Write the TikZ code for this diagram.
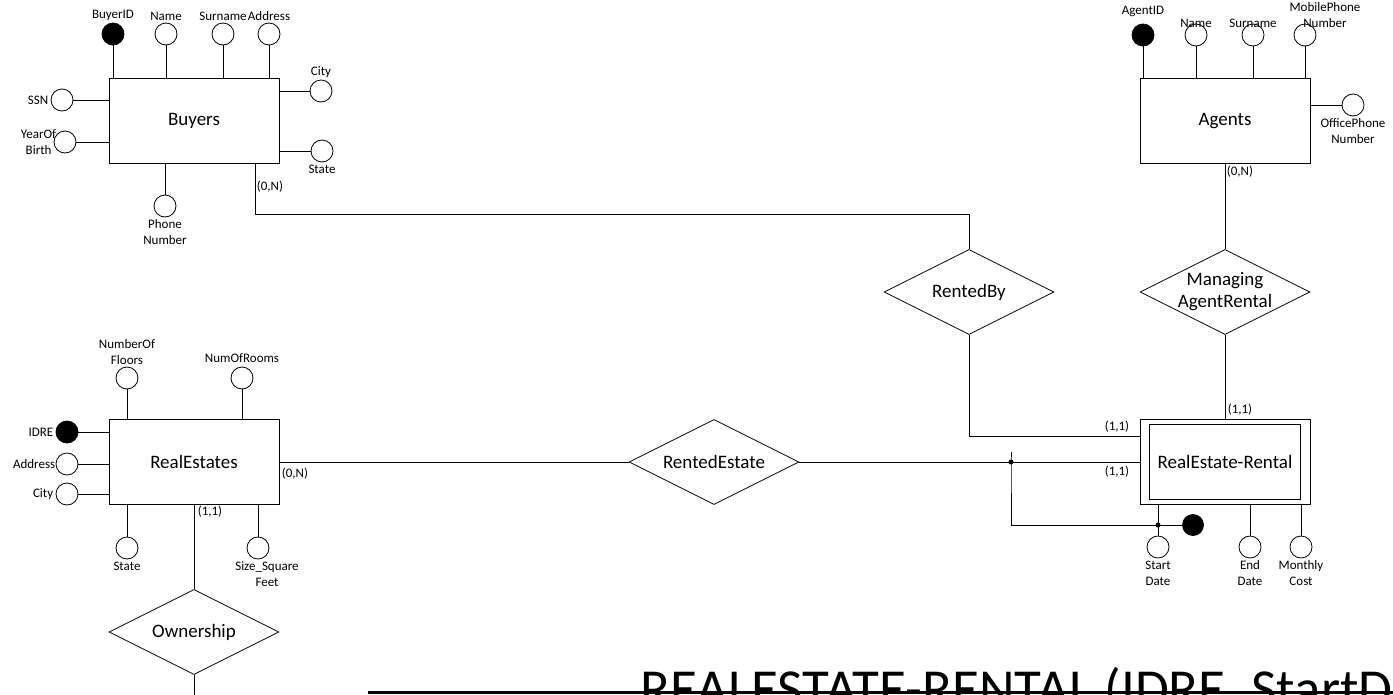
\documentclass[tikz,border=0pt]{standalone}
\usepackage{fontspec}
\setmainfont{Carlito}
\usepackage{tikz}
\usetikzlibrary{shapes.geometric}

\tikzset{
  bigfont/.style={font=\fontsize{19}{22}\selectfont},
  entity/.style={draw, rectangle, minimum width=170pt, minimum height=85pt, bigfont},
  attr/.style={draw, circle, minimum size=22pt, inner sep=0pt, fill=white},
  keyattr/.style={attr, fill=black},
  relation/.style={draw, diamond, minimum width=170pt, minimum height=85pt, inner sep=0pt},
  card/.style={font=\fontsize{13}{15}\selectfont, inner sep=1pt},
  every label/.style={font=\fontsize{13}{16}\selectfont, align=center, inner sep=1pt},
  label distance=1pt
}

\begin{document}
\begin{tikzpicture}[x=1pt, y=-1pt, line width=0.8pt]
\useasboundingbox (0,0) rectangle (1393,694);

% Buyers
\draw (194,121)  node (buy) [entity]                       {Buyers};
\draw (113,34)   node (bid) [keyattr, label=above:BuyerID] {};
\draw (166,34)   node (bnm) [attr, label=above:Name]       {};
\draw (223,34)   node (bsn) [attr, label=above:Surname]    {};
\draw (269,34)   node (bad) [attr, label=above:Address]    {};
\draw (321,91)   node (bct) [attr, label=above:City]       {};
\draw (322,151)  node (bst) [attr, label=below:State]      {};
\draw (62,100)   node (bss) [attr, label=left:SSN]         {};
\draw (65,142)   node (byb) [attr, label={[label distance=-4pt]left:YearOf\\Birth}] {};
\draw (165,206)  node (bph) [attr, label=below:Phone\\Number] {};
\draw (bid) -- (bid |- buy.north);
\draw (bnm) -- (bnm |- buy.north);
\draw (bsn) -- (bsn |- buy.north);
\draw (bad) -- (bad |- buy.north);
\draw (bct) -- (bct -| buy.east);
\draw (bst) -- (bst -| buy.east);
\draw (bss) -- (bss -| buy.west);
\draw (byb) -- (byb -| buy.west);
\draw (bph) -- (bph |- buy.south);
\draw (270,187)  node (c1) [card] {(0,N)};

% Agents
\draw (1225,121) node (agt) [entity]                       {Agents};
\draw (1143,35)  node (aid) [keyattr, label={[yshift=4pt]above:AgentID}] {};
\draw (1196,35)  node (anm) [attr, label={[label distance=-5pt]above:Name}] {};
\draw (1253,35)  node (asn) [attr, label={[label distance=-5pt]above:Surname}] {};
\draw (1305,35)  node (amp) [attr, label={[xshift=20pt, yshift=-6pt]above:MobilePhone\\Number}] {};
\draw (1353,105) node (aop) [attr, label=below:OfficePhone\\Number] {};
\draw (aid) -- (aid |- agt.north);
\draw (anm) -- (anm |- agt.north);
\draw (asn) -- (asn |- agt.north);
\draw (amp) -- (amp |- agt.north);
\draw (aop) -- (aop -| agt.east);
\draw (1240,172) node (c2) [card] {(0,N)};

% relationships
\draw (969,292)  node (rb)  [relation, label={[bigfont]center:RentedBy}] {};
\draw (1225,292) node (mar) [relation, label={[bigfont]center:Managing\\AgentRental}] {};
\draw (714,462)  node (rde) [relation, label={[bigfont]center:RentedEstate}] {};
\draw (194,632)  node (own) [relation, label={[bigfont]center:Ownership}] {};

% RealEstate-Rental
\draw (1225,462) node (rer)  [entity] {};
\draw (1225,462) node (reri) [entity, minimum width=151pt, minimum height=75pt] {RealEstate-Rental};
\draw (1158,547) node (sdt) [attr, label=below:Start\\Date]   {};
\draw (1250,547) node (edt) [attr, label=below:End\\Date]     {};
\draw (1301,547) node (mct) [attr, label=below:Monthly\\Cost] {};
\draw (1193,525) node (sdk) [keyattr, minimum size=21pt] {};
\draw (sdt) -- (sdt |- rer.south);
\draw (edt) -- (edt |- rer.south);
\draw (mct) -- (mct |- rer.south);
\draw (1240,410) node (c3) [card] {(1,1)};
\draw (1117,427) node (c4) [card] {(1,1)};
\draw (1117,472) node (c5) [card] {(1,1)};

% RealEstates
\draw (194,462)  node (rest) [entity]                        {RealEstates};
\draw (127,378)  node (rnf) [attr, label=above:NumberOf\\Floors] {};
\draw (242,378)  node (rnr) [attr, label={[label distance=3pt]above:NumOfRooms}] {};
\draw (67,432)   node (rid) [keyattr, label=left:IDRE]   {};
\draw (67,464)   node (rad) [attr, label={[label distance=-1pt]left:Address}] {};
\draw (67,494)   node (rct) [attr, label=left:City]      {};
\draw (127,548)  node (rst) [attr, label=below:State]    {};
\draw (258,548)  node (rsz) [attr, label={[xshift=9pt]below:Size\_Square\\Feet}] {};
\draw (rnf) -- (rnf |- rest.north);
\draw (rnr) -- (rnr |- rest.north);
\draw (rid) -- (rid -| rest.west);
\draw (rad) -- (rad -| rest.west);
\draw (rct) -- (rct -| rest.west);
\draw (rst) -- (rst |- rest.south);
\draw (rsz) -- (rsz |- rest.south);
\draw (295,474)  node (c6) [card] {(0,N)};
\draw (210,512)  node (c7) [card] {(1,1)};

% links
\draw ([xshift=61pt]buy.south) -- ++(0,50) -| (rb.north);
\draw (rb.south) |- ([yshift=26pt]rer.west);
\draw (agt.south) -- (mar.north);
\draw (mar.south) -- (rer.north);
\draw (rest.east) -- (rde.west);
\draw (rde.east) -- (rer.west);
\coordinate (j1) at (1011,462);
\fill (j1) circle (2.5pt);
\draw ([yshift=10pt]j1) -- (j1) |- (sdk);
\fill (sdt |- sdk) circle (2.5pt);
\draw (rest.south) -- (own.north);
\draw (own.south) -- ++(0,30);

% cut-off text at the bottom
\draw (92,700)   node (pht) [font=\fontsize{11}{13}\selectfont] {Phone};
\draw (640,707)  node (cap) [anchor=base west, inner sep=0pt, font=\fontsize{55}{60}\selectfont] {REALESTATE-RENTAL (IDRE, StartDate};
\draw[line width=3pt] (368,692.5) -- (1393,692.5);

\end{tikzpicture}
\end{document}
